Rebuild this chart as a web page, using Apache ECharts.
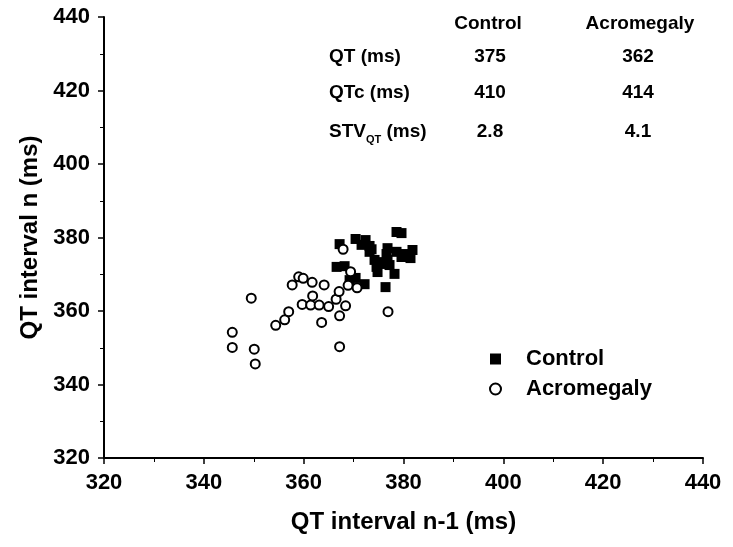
<!DOCTYPE html>
<html><head><meta charset="utf-8">
<script src="https://cdn.jsdelivr.net/npm/echarts@6/dist/echarts.min.js"></script>
<style>html,body{margin:0;padding:0;background:#fff}#c{width:733px;height:547px}</style>
</head><body><div id="c"></div>
<script>
// QT interval n-1 (x) vs QT interval n (y)
const controlX = [367.2,370.4,372.4,373.2,371.6,373.6,373.2,376.8,378.6,376.6,380.2,381.8,381.4,379.6,374.2,375.2,376.8,376.2,374.6,374.8,377.2,378.2,372.2,376.4,378.6,379.6,366.6,368.2,369.2,370.4];
const controlY = [378.2,379.6,379.3,377.7,378.0,376.8,376.1,377.1,376.1,375.5,375.5,376.6,374.4,374.7,373.9,373.3,373.9,372.8,372.0,370.6,372.5,370.1,367.3,366.5,381.5,381.2,372.0,372.2,368.4,369.0];
const acroX = [349.5,345.7,345.7,350.1,350.3,354.4,356.2,357.0,357.7,359.0,359.9,361.7,364.1,359.7,361.4,363.1,361.8,365.0,363.6,366.5,367.1,368.4,367.2,367.2,367.9,369.4,368.9,370.7,376.9];
const acroY = [363.5,354.2,350.1,349.6,345.6,356.1,357.6,359.8,367.1,369.3,368.9,367.8,367.1,361.8,361.6,361.6,364.1,361.2,356.9,363.2,365.3,361.4,358.7,350.3,376.8,370.7,367.0,366.3,359.8];
const seriesNames = ['Control','Acromegaly'];
const tableCols = ['Control','Acromegaly'];
const tableRows = ['QT (ms)','QTc (ms)','STV_QT (ms)'];
const tableControl = ['375','410','2.8'];
const tableAcro = ['362','414','4.1'];

const F = 'Arial, "Liberation Sans", sans-serif';
const chart = echarts.init(document.getElementById('c'));
const rowY = [57,93,132];
const graphics = [];
graphics.push({type:'text',x:488,y:24,style:{text:tableCols[0],font:'bold 19px '+F,fill:'#000',align:'center',verticalAlign:'middle'}});
graphics.push({type:'text',x:640,y:24,style:{text:tableCols[1],font:'bold 19px '+F,fill:'#000',align:'center',verticalAlign:'middle'}});
tableRows.forEach((r,i)=>{
  let style;
  if (r.indexOf('_')>=0){
    const p = r.split('_'); const sub = p[1].split(' ')[0]; const rest = p[1].slice(sub.length);
    style = {text:'{a|'+p[0]+'}{b|'+sub+'}{a|'+rest+'}',rich:{a:{font:'bold 19px '+F,fill:'#000'},b:{font:'bold 11px '+F,fill:'#000',padding:[16,0,0,0]}},verticalAlign:'middle'};
  } else {
    style = {text:r,font:'bold 19px '+F,fill:'#000',verticalAlign:'middle'};
  }
  graphics.push({type:'text',x:329,y:rowY[i],style:style});
  graphics.push({type:'text',x:490,y:rowY[i],style:{text:tableControl[i],font:'bold 19px '+F,fill:'#000',align:'center',verticalAlign:'middle'}});
  graphics.push({type:'text',x:638,y:rowY[i],style:{text:tableAcro[i],font:'bold 19px '+F,fill:'#000',align:'center',verticalAlign:'middle'}});
});

const axisCommon = {
  type:'value', min:320, max:440, interval:20,
  axisLine:{show:true,lineStyle:{color:'#000',width:2}},
  axisTick:{show:true,inside:false,length:6,lineStyle:{color:'#000',width:1.5}},
  minorTick:{show:true,splitNumber:2,length:4,lineStyle:{color:'#000',width:1}},
  splitLine:{show:false},
  axisLabel:{color:'#000',fontFamily:F,fontWeight:'bold',fontSize:22},
  nameLocation:'middle',
  nameTextStyle:{color:'#000',fontFamily:F,fontWeight:'bold',fontSize:24}
};
chart.setOption({
  animation:false,
  backgroundColor:'#fff',
  grid:{left:104,right:30,top:17,bottom:89,containLabel:false},
  xAxis:Object.assign({},axisCommon,{name:'QT interval n-1 (ms)',nameGap:52,axisLabel:Object.assign({},axisCommon.axisLabel,{margin:14})}),
  yAxis:Object.assign({},axisCommon,{name:'QT interval n (ms)',nameGap:62,axisLabel:Object.assign({},axisCommon.axisLabel,{margin:14})}),
  legend:{orient:'vertical',left:484,top:343,itemWidth:11,itemHeight:11,itemGap:8,
    textStyle:{fontFamily:F,fontWeight:'bold',fontSize:22,color:'#000',lineHeight:22,padding:[0,0,0,20]},
    data:[{name:seriesNames[0],icon:'rect',itemStyle:{color:'#000',opacity:1}},{name:seriesNames[1],icon:'circle',itemStyle:{color:'#fff',borderColor:'#000',borderWidth:2,opacity:1}}]},
  graphic:graphics,
  series:[
    {name:seriesNames[0],type:'scatter',symbol:'rect',symbolSize:10,itemStyle:{color:'#000',opacity:1},
     data:controlX.map((x,i)=>[x,controlY[i]])},
    {name:seriesNames[1],type:'scatter',symbol:'circle',symbolSize:9,itemStyle:{color:'#fff',borderColor:'#000',borderWidth:2,opacity:1},
     data:acroX.map((x,i)=>[x,acroY[i]])}
  ]
});
</script></body></html>
